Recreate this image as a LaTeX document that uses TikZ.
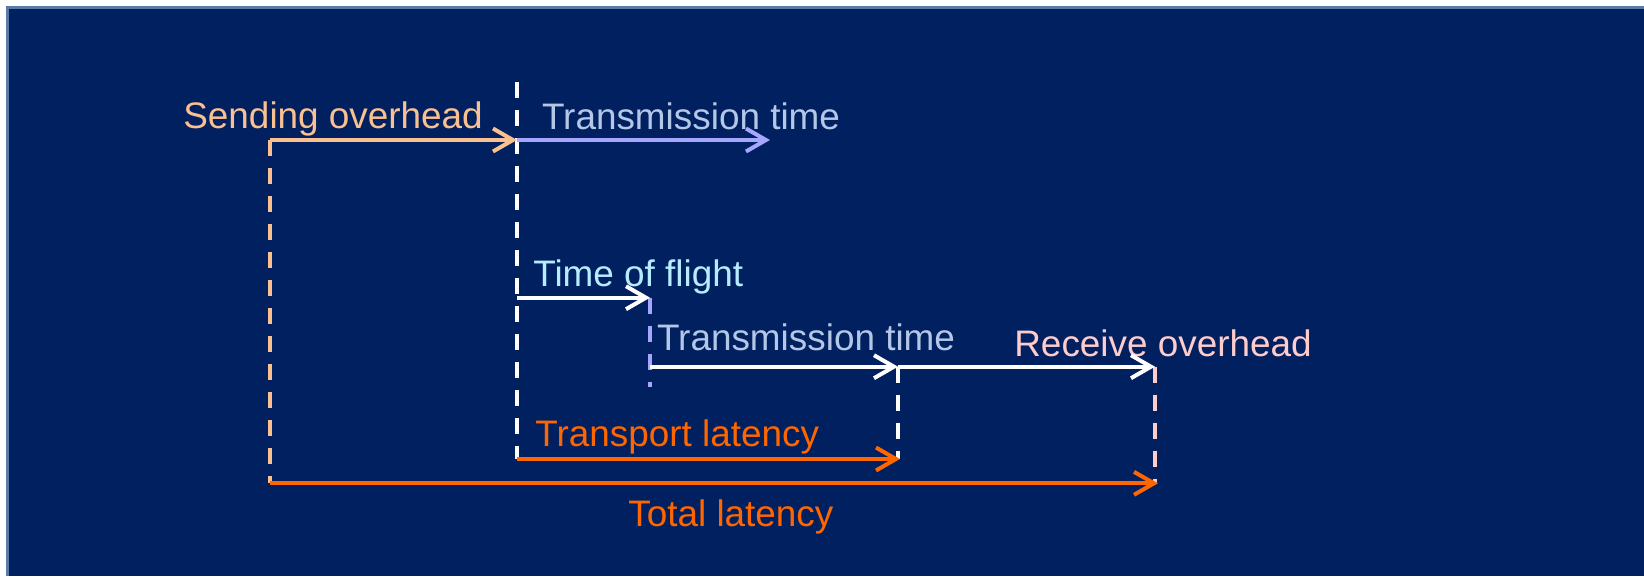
\documentclass[tikz,border=0pt]{standalone}
\usepackage{fontspec}
\setmainfont{Liberation Sans}
\usepackage{xcolor}
\usetikzlibrary{arrows.meta, positioning, calc}
\definecolor{navy}{HTML}{002060}
\definecolor{frameblue}{HTML}{5A7AAA}
\definecolor{peach}{HTML}{FAC090}
\definecolor{paleblue}{HTML}{B4C7E7}
\definecolor{lavender}{HTML}{A6A6FF}
\definecolor{flightcyan}{HTML}{B7ECFF}
\definecolor{rosepink}{HTML}{FFCCCC}
\definecolor{latorange}{HTML}{FF6600}
\tikzstyle{arrow} = [line width=0.08cm,->,>={Straight Barb[length=0.4cm,width=0.46cm]}]

\begin{document}
\begin{tikzpicture}[x=0.02cm, y=-0.02cm]
\tikzstyle{timelabel} = [anchor=base west, inner sep=0pt, font=\fontsize{21}{25}\selectfont]
\tikzstyle{timemark} = [line width=0.075cm, dash pattern=on 0.32cm off 0.24cm]

\useasboundingbox (0,0) rectangle (1644,576);
\fill[white] (0,0) rectangle (1644,576);
\fill[frameblue] (6,6) rectangle (1644,576);
\fill[navy] (9,9) rectangle (1644,576);

\coordinate (sendstart) at (270,140);
\coordinate (sendend) at (517,140);
\coordinate (txend) at (770,140);
\coordinate (wiretop) at (517,82);
\coordinate (wirebot) at (517,459);
\coordinate (flightstart) at (517,297.7);
\coordinate (flightend) at (650,297.7);
\coordinate (rxtop) at (650,297.7);
\coordinate (rxbot) at (650,387);
\coordinate (rxstart) at (650,366.7);
\coordinate (rxend) at (898,366.7);
\coordinate (recvend) at (1155,366.7);
\coordinate (arrivebot) at (898,459);
\coordinate (donebot) at (1155,483.3);
\coordinate (transstart) at (517,459);
\coordinate (transend) at (900,459);
\coordinate (totalstart) at (270,483.3);
\coordinate (totalend) at (1158,483.3);

\node (sendlbl) [timelabel, text=peach] at (183,128.3) {Sending overhead};
\node (tx1lbl) [timelabel, text=paleblue] at (541.7,129) {Transmission time};
\node (flightlbl) [timelabel, text=flightcyan] at (533,286.5) {Time of flight};
\node (tx2lbl) [timelabel, text=paleblue] at (656.7,350) {Transmission time};
\node (recvlbl) [timelabel, text=rosepink] at (1014,356) {Receive overhead};
\node (translbl) [timelabel, text=latorange] at (535,446.7) {Transport latency};
\node (totallbl) [timelabel, text=latorange] at (628,526) {Total latency};

\draw [timemark, peach] (sendstart) -- (totalstart);
\draw [timemark, white] (wiretop) -- (wirebot);
\draw [timemark, lavender] (rxtop) -- (rxbot);
\draw [timemark, white] (rxend) -- (arrivebot);
\draw [timemark, rosepink] (recvend) -- (donebot);

\draw [arrow, peach] (sendstart) -- (sendend);
\draw [arrow, lavender] (sendend) -- (txend);
\draw [arrow, white] (flightstart) -- (flightend);
\draw [arrow, white] (rxstart) -- (rxend);
\draw [arrow, white] (rxend) -- (recvend);
\draw [arrow, latorange] (transstart) -- (transend);
\draw [arrow, latorange] (totalstart) -- (totalend);

\end{tikzpicture}
\end{document}
